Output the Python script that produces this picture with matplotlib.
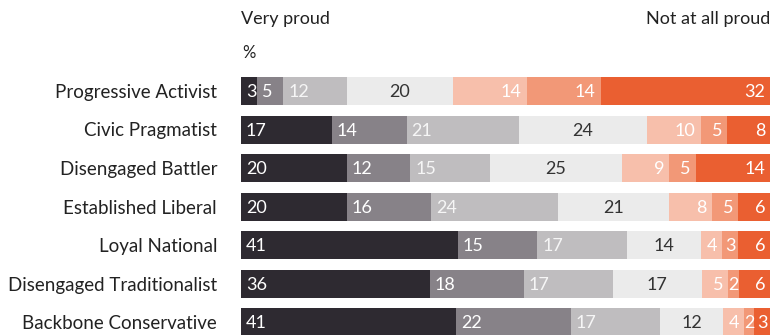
import numpy as np
import matplotlib.pyplot as plt

plt.rcParams['font.family'] = ['Lato', 'DejaVu Sans']

segments = ['Progressive Activist', 'Civic Pragmatist', 'Disengaged Battler',
            'Established Liberal', 'Loyal National', 'Disengaged Traditionalist',
            'Backbone Conservative']

# share of each segment, from "very proud" to "not at all proud"
very_proud = [3, 17, 20, 20, 41, 36, 41]
proud_6 = [5, 14, 12, 16, 15, 18, 22]
proud_5 = [12, 21, 15, 24, 17, 17, 17]
neutral = [20, 24, 25, 21, 14, 17, 12]
proud_3 = [14, 10, 9, 8, 4, 5, 4]
proud_2 = [14, 5, 5, 5, 3, 2, 2]
not_proud = [32, 8, 14, 6, 6, 6, 3]

series = [very_proud, proud_6, proud_5, neutral, proud_3, proud_2, not_proud]
colors = ['#2e2a31', '#878288', '#bfbdbf', '#ebebeb', '#f7bfab', '#f29877', '#ea5f31']
text_colors = ['#ffffff', '#ffffff', '#f6f6f6', '#333333', '#ffffff', '#ffffff', '#ffffff']
align = ['left', 'left', 'left', 'center', 'right', 'right', 'right']

W, H = 775, 335
fig = plt.figure(figsize=(W / 100, H / 100), dpi=100)
ax = fig.add_axes([241 / W, 0, (770 - 241) / W, 1])

vals = np.array(series, dtype=float)
totals = vals.sum(axis=0)
pitch = 38.5
first = 91
ax.set_xlim(0, 100)
ax.set_ylim((H - first) / pitch, -first / pitch)

pad = 100 * 5 / (770 - 241)
for i in range(len(segments)):
    left = 0.0
    for k in range(len(series)):
        v = series[k][i]
        w = v / totals[i] * 100
        ax.barh(i, w, left=left, height=28 / pitch, color=colors[k], linewidth=0)
        ha = align[k]
        # tiny segments get their number centred
        if v <= 3 and k > 0:
            ha = 'center'
        if ha == 'left':
            tx = left + pad
        elif ha == 'right':
            tx = left + w - pad
        else:
            tx = left + w / 2
        ax.text(tx, i + 0.03, str(v), ha=ha, va='center',
                color=text_colors[k], fontsize=13)
        left += w
    fig.text(217 / W, 1 - (first + i * pitch + 1.5) / H, segments[i], ha='right',
             va='center', fontsize=13.5, color='#222222')

ax.axis('off')

fig.text(241 / W, 1 - 19 / H, 'Very proud', ha='left', va='center',
         fontsize=13, color='#222222')
fig.text(770 / W, 1 - 19 / H, 'Not at all proud', ha='right', va='center',
         fontsize=13, color='#222222')
fig.text(242 / W, 1 - 53 / H, '%', ha='left', va='center',
         fontsize=12, color='#222222')

fig.savefig('out.png', dpi=100)
